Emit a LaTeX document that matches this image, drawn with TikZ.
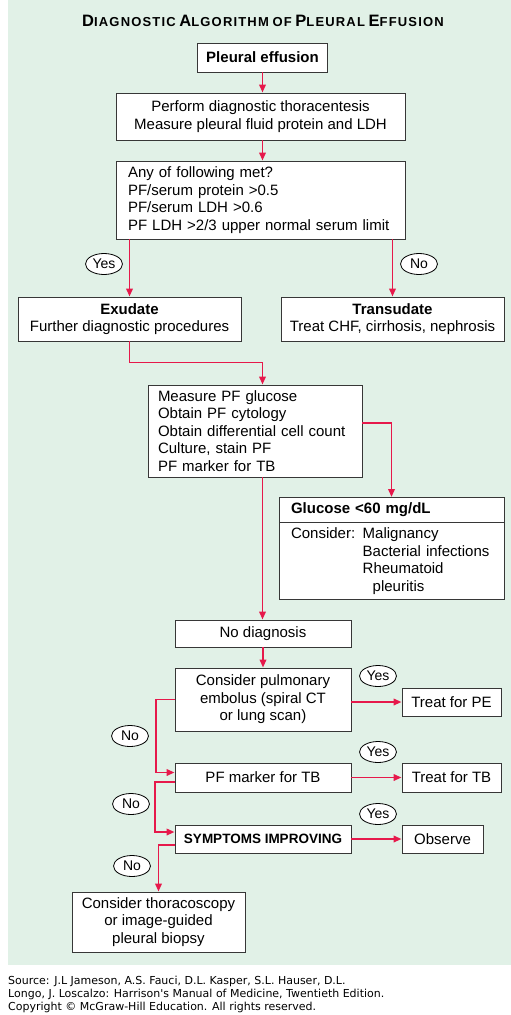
\documentclass[tikz,border=0pt]{standalone}
\usepackage{fontspec}
\setmainfont{Liberation Sans}
\newfontfamily\srcfont{DejaVu Sans}
\usepackage{tikz}
\usetikzlibrary{arrows.meta}
\usetikzlibrary{shapes.geometric,shapes.multipart}

\definecolor{panelgreen}{RGB}{225,241,231}
\definecolor{flowred}{RGB}{230,25,75}
\definecolor{boxgray}{RGB}{55,55,55}

\newcommand{\capword}[2]{{\fontsize{16.5}{18}\selectfont #1}{\fontsize{13}{18}\selectfont #2}}
\newcommand{\considerskip}{\phantom{Consider: }}

\tikzset{
  box/.style={draw=boxgray, line width=0.9pt, fill=white, inner sep=0pt, align=center,
    font=\fontsize{15}{17.5}\selectfont},
  answer/.style={ellipse, draw=black, line width=0.8pt, fill=white, inner sep=0pt,
    minimum width=37pt, minimum height=21pt, font=\fontsize{14}{16}\selectfont},
  flow/.style={draw=flowred, line width=1.9pt, -{Triangle[length=8pt,width=6.5pt]}}
}

\begin{document}
\begin{tikzpicture}[x=1pt, y=-1pt]
  \useasboundingbox (0,0) rectangle (511,1015);
  \fill[panelgreen] (8,0) rectangle (511,965);

  \node (title) at (263,21) {\bfseries\addfontfeature{LetterSpace=9}%
    \capword{D}{IAGNOSTIC} \capword{A}{LGORITHM} \capword{}{OF} \capword{P}{LEURAL} \capword{E}{FFUSION}};

  \node[box, minimum width=130pt, minimum height=29pt] (pe) at (262.5,57.5) {\bfseries Pleural effusion};
  \node[box, minimum width=289pt, minimum height=47pt] (thora) at (260.5,116.5)
    {Perform diagnostic thoracentesis\\Measure pleural fluid protein and LDH};
  \node[box, minimum width=289pt, minimum height=78pt, text width=265pt, align=left] (crit) at (260.5,200)
    {Any of following met?\\PF/serum protein >0.5\\PF/serum LDH >0.6\\PF LDH >2/3 upper normal serum limit};
  \node[box, minimum width=223pt, minimum height=44pt] (exud) at (129.5,319)
    {\textbf{Exudate}\\Further diagnostic procedures};
  \node[box, minimum width=223pt, minimum height=44pt] (trans) at (392.5,319)
    {\textbf{Transudate}\\Treat CHF, cirrhosis, nephrosis};
  \node[box, minimum width=214pt, minimum height=92pt, text width=194pt, align=left] (tests) at (255,431)
    {Measure PF glucose\\Obtain PF cytology\\Obtain differential cell count\\Culture, stain PF\\PF marker for TB};
  \node[box, rectangle split, rectangle split parts=2, text width=201pt, align=left,
    inner xsep=12pt, inner ysep=5pt, anchor=north] (gluc) at (391.5,497)
    {\textbf{Glucose <60 mg/dL}
     \nodepart{two}\mbox{Consider: Malignancy}\\\mbox{\considerskip Bacterial infections}\\
     \mbox{\considerskip Rheumatoid}\\\mbox{\considerskip\hspace*{10pt}pleuritis}};
  \node[box, minimum width=176pt, minimum height=27pt] (nodiag) at (263,633.5) {No diagnosis};
  \node[box, minimum width=176pt, minimum height=63pt] (pulm) at (263,699.5)
    {Consider pulmonary\\embolus (spiral CT\\or lung scan)};
  \node[box, minimum width=99pt, minimum height=28pt] (treatpe) at (451.5,702) {Treat for PE};
  \node[box, minimum width=176pt, minimum height=29pt] (tbmark) at (263,777.5) {PF marker for TB};
  \node[box, minimum width=99pt, minimum height=29pt] (treattb) at (451.5,777.5) {Treat for TB};
  \node[box, minimum width=176pt, minimum height=28pt, font=\fontsize{13.5}{16}\selectfont\bfseries]
    (sympt) at (263,839) {SYMPTOMS IMPROVING};
  \node[box, minimum width=81pt, minimum height=28pt] (observe) at (442.5,839) {Observe};
  \node[box, minimum width=173pt, minimum height=60pt] (thoraco) at (158.5,922)
    {Consider thoracoscopy\\or image-guided\\pleural biopsy};

  \draw[flow] (pe.south) -- (pe.south |- thora.north);
  \draw[flow] (thora.south -| pe.south) -- (pe.south |- crit.north);
  \draw[flow] (exud.north |- crit.south) -- (exud.north);
  \draw[flow] (trans.north |- crit.south) -- (trans.north);
  \draw[flow] (exud.south) -- ++(0,21) -| (tests.north -| pe.south);
  \draw[flow] ([yshift=8pt]tests.east) -| (gluc.north);
  \draw[flow] (tests.south -| pe.south) -- (nodiag.north -| pe.south);
  \draw[flow] (nodiag.south) -- (pulm.north);
  \draw[flow] (pulm.east |- treatpe.west) -- (treatpe.west);
  \draw[flow] (pulm.west) -- ++(-19,0) |- ([yshift=5pt]tbmark.west);
  \draw[flow] (tbmark.east) -- (treattb.west);
  \draw[flow] ([yshift=-4.5pt]tbmark.west) -- ++(-20,0) |- ([yshift=7pt]sympt.west);
  \draw[flow] (sympt.east) -- (observe.west);
  \draw[flow] ([yshift=-6pt]sympt.west) -| (thoraco.north);

  \node[answer] (yes1) at (104,264) {Yes};
  \node[answer] (no1) at (419,264) {No};
  \node[answer] (yes2) at (378,676) {Yes};
  \node[answer] (no2) at (130,736) {No};
  \node[answer] (yes3) at (378,752) {Yes};
  \node[answer] (no3) at (131,804) {No};
  \node[answer] (yes4) at (378,814) {Yes};
  \node[answer] (no4) at (132,866) {No};

  \node[anchor=north west, align=left, inner sep=0pt, font=\srcfont\fontsize{11}{13}\selectfont] (source) at (8,976)
    {Source: J.L Jameson, A.S. Fauci, D.L. Kasper, S.L. Hauser, D.L.\\
     Longo, J. Loscalzo: Harrison's Manual of Medicine, Twentieth Edition.\\
     Copyright © McGraw-Hill Education. All rights reserved.};
\end{tikzpicture}
\end{document}
